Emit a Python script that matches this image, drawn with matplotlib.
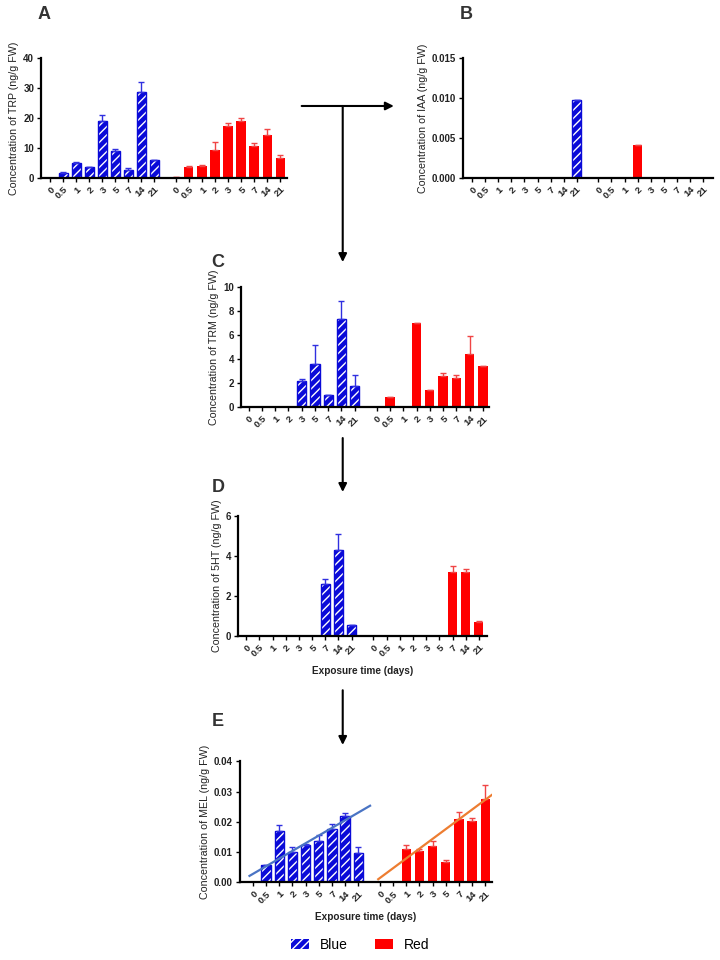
import numpy as np
import matplotlib
matplotlib.use('Agg')
import matplotlib.pyplot as plt
from matplotlib.patches import Patch

plt.rcParams['font.family'] = ['Liberation Sans', 'DejaVu Sans']
plt.rcParams['hatch.linewidth'] = 1.0

# %% data

days = ['0', '0.5', '1', '2', '3', '5', '7', '14', '21']

trp_blue = [0, 1.6, 4.9, 3.6, 18.9, 8.9, 2.7, 28.6, 5.9]
trp_blue_err = [0, 0.5, 0.5, 0, 2.2, 0.6, 0.6, 3.4, 0]
trp_red = [0.4, 3.7, 4.0, 9.2, 17.2, 19.0, 10.7, 14.2, 6.7]
trp_red_err = [0, 0.4, 0.4, 2.8, 1.2, 1.1, 1.1, 2.2, 1.1]

iaa_blue = [0, 0, 0, 0, 0, 0, 0, 0, 0.0098]
iaa_blue_err = [0] * 9
iaa_red = [0, 0, 0, 0.0041, 0, 0, 0, 0, 0]
iaa_red_err = [0] * 9

trm_blue = [0, 0, 0, 0, 2.2, 3.6, 1.0, 7.3, 1.75]
trm_blue_err = [0, 0, 0, 0, 0.15, 1.6, 0, 1.5, 0.9]
trm_red = [0, 0.85, 0, 7.0, 1.4, 2.55, 2.4, 4.45, 3.45]
trm_red_err = [0, 0, 0, 0, 0, 0.25, 0.25, 1.5, 0]

sht_blue = [0, 0, 0, 0, 0, 0, 2.62, 4.28, 0.53]
sht_blue_err = [0, 0, 0, 0, 0, 0, 0.23, 0.82, 0]
sht_red = [0, 0, 0, 0, 0, 0, 3.2, 3.2, 0.68]
sht_red_err = [0, 0, 0, 0, 0, 0, 0.3, 0.15, 0.07]

mel_blue = [0, 0.0057, 0.017, 0.0099, 0.0123, 0.0137, 0.0177, 0.022, 0.0096]
mel_blue_err = [0, 0, 0.0019, 0.0018, 0.0004, 0.0018, 0.0014, 0.0009, 0.0019]
mel_red = [0, 0, 0.011, 0.0104, 0.0119, 0.0068, 0.021, 0.0203, 0.0275]
mel_red_err = [0, 0, 0.0014, 0.0006, 0.0018, 0.0005, 0.0023, 0.0009, 0.0048]

# trend lines in E: (start, end) position and value
blue_trend_x = [-0.26, 8.9]
blue_trend_y = [0.0021, 0.0253]
red_trend_x = [-0.13, 8.85]
red_trend_y = [0.0010, 0.0300]

# %% style

BLUE = '#0a0ad8'
RED = '#ff0000'
GAP = 1.65
xb = np.arange(9)
xr = np.arange(9) + 8 + GAP


def draw_panel(ax, blue, blue_err, red, red_err, yticks, ylabel, fmt, xlim, xlabel=False):
    ax.bar(xb, blue, width=0.7, color=BLUE, edgecolor='white', hatch='////', lw=0)
    ax.bar(xb, blue, width=0.7, fill=False, edgecolor=BLUE, lw=1)
    ax.bar(xr, red, width=0.7, color=RED, lw=0)
    ax.errorbar(xb, blue, yerr=[np.zeros(9), blue_err], fmt='none', ecolor='#3030e0',
                elinewidth=1, capsize=2.5, capthick=1)
    ax.errorbar(xr, red, yerr=[np.zeros(9), red_err], fmt='none', ecolor='#f04545',
                elinewidth=1, capsize=2.5, capthick=1)
    ax.set_xlim(*xlim)
    ax.set_ylim(yticks[0], yticks[-1])
    ax.set_yticks(yticks)
    ax.set_yticklabels([fmt.format(t) for t in yticks], fontsize=7, fontweight='bold',
                       color='#222222')
    ax.set_xticks(np.concatenate([xb, xr]))
    ax.set_xticklabels(days + days, rotation=45, ha='right', rotation_mode='anchor',
                       fontsize=6.8, fontweight='bold', color='#222222')
    ax.tick_params(length=3, width=1, pad=2)
    for s in ['top', 'right']:
        ax.spines[s].set_visible(False)
    for s in ['left', 'bottom']:
        ax.spines[s].set_linewidth(1.6)
    ax.set_ylabel(ylabel, fontsize=7.7, color='#222222', labelpad=3)
    if xlabel:
        ax.set_xlabel('Exposure time (days)', fontsize=7.2, fontweight='bold',
                      color='#222222', labelpad=5)


fig = plt.figure(figsize=(7.2, 9.6), dpi=100)

axA = fig.add_axes([0.057, 0.8146, 0.342, 0.125])
draw_panel(axA, trp_blue, trp_blue_err, trp_red, trp_red_err, [0, 10, 20, 30, 40],
           'Concentration of TRP (ng/g FW)', '{:g}', (-0.7, 18.2))

axB = fig.add_axes([0.643, 0.8146, 0.347, 0.125])
draw_panel(axB, iaa_blue, iaa_blue_err, iaa_red, iaa_red_err, [0, 0.005, 0.010, 0.015],
           'Concentration of IAA (ng/g FW)', '{:.3f}', (-0.7, 18.4))

axC = fig.add_axes([0.335, 0.576, 0.344, 0.125])
draw_panel(axC, trm_blue, trm_blue_err, trm_red, trm_red_err, [0, 2, 4, 6, 8, 10],
           'Concentration of TRM (ng/g FW)', '{:g}', (-0.55, 18.1))

axD = fig.add_axes([0.331, 0.3375, 0.346, 0.125])
draw_panel(axD, sht_blue, sht_blue_err, sht_red, sht_red_err, [0, 2, 4, 6],
           'Concentration of 5HT (ng/g FW)', '{:g}', (-0.6, 18.3), xlabel=True)

axE = fig.add_axes([0.333, 0.081, 0.351, 0.126])
draw_panel(axE, mel_blue, mel_blue_err, mel_red, mel_red_err, [0, 0.01, 0.02, 0.03, 0.04],
           'Concentration of MEL (ng/g FW)', '{:.2f}', (-1.0, 18.2), xlabel=True)
axE.plot(blue_trend_x, blue_trend_y, color='#4a74c4', lw=1.6)
axE.plot(np.array(red_trend_x) + 8 + GAP, red_trend_y, color='#ed7d31', lw=1.6)

# panel letters
for letter, x, y in [('A', 0.052, 0.985), ('B', 0.638, 0.985), ('C', 0.294, 0.727),
                     ('D', 0.294, 0.492), ('E', 0.294, 0.248)]:
    fig.text(x, y, letter, fontsize=13, fontweight='bold', color='#333333', va='center')

# arrows
arrow = dict(arrowstyle='-|>', lw=1.5, color='black', mutation_scale=12,
             shrinkA=0, shrinkB=0)
plt.annotate('', xy=(0.547, 0.8896), xytext=(0.419, 0.8896), xycoords='figure fraction',
             arrowprops=arrow)
plt.annotate('', xy=(0.476, 0.727), xytext=(0.476, 0.8896), xycoords='figure fraction',
             arrowprops=arrow)
plt.annotate('', xy=(0.476, 0.4875), xytext=(0.476, 0.5437), xycoords='figure fraction',
             arrowprops=arrow)
plt.annotate('', xy=(0.476, 0.224), xytext=(0.476, 0.281), xycoords='figure fraction',
             arrowprops=arrow)

# legend
handles = [Patch(facecolor=BLUE, edgecolor='white', hatch='////', lw=0),
           Patch(facecolor=RED, lw=0)]
fig.legend(handles, ['Blue', 'Red'], loc='center', bbox_to_anchor=(0.5, 0.016), ncol=2,
           frameon=False, fontsize=10, handlelength=1.3, handleheight=0.75,
           columnspacing=1.95, handletextpad=0.8)

fig.savefig('out.png', dpi=100)
